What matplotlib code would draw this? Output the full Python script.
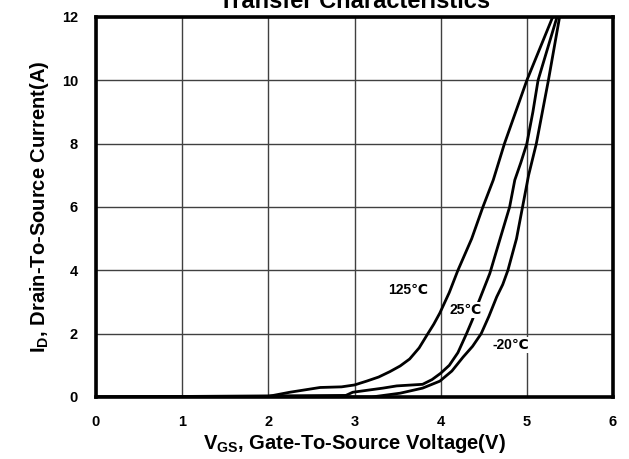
import matplotlib
matplotlib.use("Agg")
import matplotlib.pyplot as plt

# transfer curves, Id vs Vgs at three temperatures
vgs_125 = [0.0, 2.0, 2.25, 2.6, 2.85, 3.0, 3.14, 3.28, 3.41, 3.53, 3.64, 3.75, 3.84, 3.92, 3.99, 4.1, 4.2, 4.36, 4.49, 4.61, 4.74, 4.87, 5.0, 5.15, 5.30]
id_125 = [0.0, 0.02, 0.15, 0.3, 0.32, 0.38, 0.5, 0.63, 0.8, 0.98, 1.2, 1.55, 1.95, 2.3, 2.65, 3.3, 4.0, 5.0, 6.0, 6.85, 8.0, 9.0, 10.0, 11.0, 12.0]

vgs_25 = [0.0, 2.9, 2.98, 3.33, 3.49, 3.79, 3.9, 4.0, 4.1, 4.2, 4.3, 4.37, 4.44, 4.57, 4.69, 4.80, 4.86, 4.93, 5.0, 5.07, 5.13, 5.24, 5.35]
id_25 = [0.0, 0.05, 0.15, 0.28, 0.35, 0.4, 0.55, 0.75, 1.0, 1.4, 2.0, 2.45, 3.0, 3.9, 5.0, 6.0, 6.85, 7.4, 8.0, 9.0, 10.0, 11.0, 12.0]

vgs_m20 = [0.0, 3.2, 3.53, 3.79, 3.99, 4.13, 4.26, 4.37, 4.47, 4.56, 4.65, 4.72, 4.78, 4.88, 4.95, 5.02, 5.11, 5.18, 5.25, 5.38]
id_m20 = [0.0, 0.0, 0.12, 0.28, 0.5, 0.82, 1.26, 1.6, 2.0, 2.55, 3.16, 3.55, 4.0, 5.0, 6.0, 7.0, 8.0, 9.0, 10.0, 12.0]

labels = ["125\u2103", "25\u2103", "-20\u2103"]
label_pos = [(3.62, 3.38), (4.29, 2.75), (4.81, 1.64)]

xticks = [0, 1, 2, 3, 4, 5, 6]
yticks = [0, 2, 4, 6, 8, 10, 12]

plt.rcParams["font.family"] = ["Liberation Sans", "DejaVu Sans"]
plt.rcParams["font.weight"] = "bold"
plt.rcParams["mathtext.fontset"] = "custom"
plt.rcParams["mathtext.rm"] = "Liberation Sans"

fig = plt.figure(figsize=(6.29, 4.59), dpi=100)
ax = fig.add_axes([0.1526, 0.1351, 0.822, 0.8279])

for xs, ys in [(vgs_125, id_125), (vgs_25, id_25), (vgs_m20, id_m20)]:
    ax.plot(xs, ys, color="black", lw=2.0, solid_joinstyle="round", zorder=3)

for txt, (x, y) in zip(labels, label_pos):
    ax.text(x, y, txt, fontsize=10, fontweight="bold", ha="center", va="center",
            family=["Liberation Sans", "DejaVu Sans"],
            bbox=dict(facecolor="white", edgecolor="none", pad=1.0), zorder=4)

ax.set_xlim(0, 6)
ax.set_ylim(0, 12)
ax.set_xticks(xticks)
ax.set_yticks(yticks)
ax.tick_params(length=0, labelsize=10.5, pad=13)
for lab in ax.get_xticklabels() + ax.get_yticklabels():
    lab.set_fontweight("bold")

ax.grid(True, color="#404040", lw=1.0)
ax.set_axisbelow(True)
for sp in ax.spines.values():
    sp.set_linewidth(2.6)
    sp.set_zorder(5)

ax.set_xlabel(r"V$_{\rm GS}$, Gate-To-Source Voltage(V)", fontsize=14.5, fontweight="bold", labelpad=2)
ax.set_ylabel(r"I$_{\rm D}$, Drain-To-Source Current(A)", fontsize=14.5, fontweight="bold", labelpad=8)
ax.set_title("Transfer Characteristics", fontsize=17, fontweight="bold", pad=6.5)

fig.savefig("out.png", dpi=100)
